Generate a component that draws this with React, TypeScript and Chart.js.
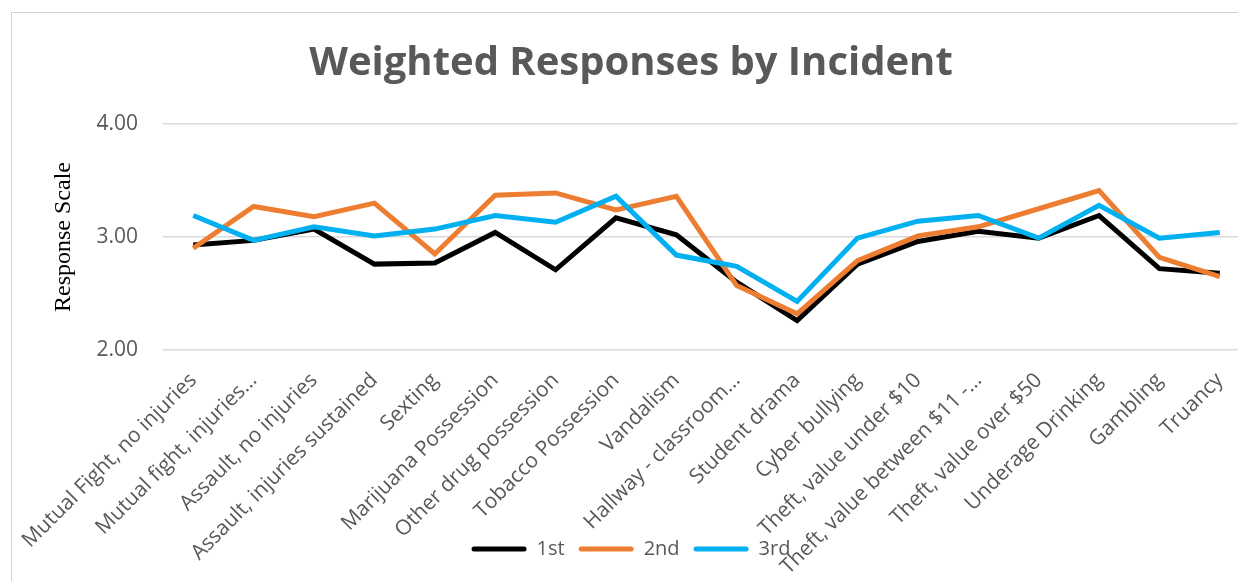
import React, { useEffect, useRef } from "react";
import { Chart, registerables } from "chart.js";

Chart.register(...registerables);

const categories = [
  "Mutual Fight, no injuries",
  "Mutual fight, injuries…",
  "Assault, no injuries",
  "Assault, injuries sustained",
  "Sexting",
  "Marijuana Possession",
  "Other drug possession",
  "Tobacco Possession",
  "Vandalism",
  "Hallway - classroom…",
  "Student drama",
  "Cyber bullying",
  "Theft, value under $10",
  "Theft, value between $11 -…",
  "Theft, value over $50",
  "Underage Drinking",
  "Gambling",
  "Truancy",
];

const first = [2.93, 2.97, 3.07, 2.76, 2.77, 3.04, 2.71, 3.17, 3.02, 2.6, 2.26, 2.76, 2.96, 3.05, 2.99, 3.19, 2.72, 2.68];
const second = [2.9, 3.27, 3.18, 3.3, 2.85, 3.37, 3.39, 3.24, 3.36, 2.57, 2.32, 2.79, 3.01, 3.09, 3.25, 3.41, 2.82, 2.65];
const third = [3.19, 2.97, 3.09, 3.01, 3.07, 3.19, 3.13, 3.36, 2.84, 2.74, 2.43, 2.99, 3.14, 3.19, 2.99, 3.28, 2.99, 3.04];

const seriesNames = ["1st", "2nd", "3rd"];
const seriesColors = ["#000000", "#ED7D31", "#00B0F0"];

const CANVAS_W = 1238;
const CANVAS_H = 568;
const TEXT = "#595959";
const SANS = "'Open Sans', sans-serif";

// let the rotated category labels run over the legend area, as in the reference
const unclipLabels = {
  id: "unclipLabels",
  afterLayout(chart: any) {
    const x = chart.scales.x;
    if (x) x.bottom = chart.height;
  },
};

export default function App() {
  const ref = useRef<HTMLCanvasElement | null>(null);

  useEffect(() => {
    if (!ref.current) return;
    const values = [first, second, third];
    const chart = new Chart(ref.current, {
      type: "line",
      data: {
        labels: categories,
        datasets: values.map((v, i) => ({
          label: seriesNames[i],
          data: v,
          borderColor: seriesColors[i],
          backgroundColor: seriesColors[i],
          borderWidth: 5,
          pointRadius: 0,
          tension: 0,
          order: 2 - i,
        })),
      },
      plugins: [unclipLabels],
      options: {
        responsive: false,
        animation: false,
        layout: { padding: { left: 0, right: 0, top: 0, bottom: 12 } },
        plugins: {
          tooltip: { enabled: false },
          title: {
            display: true,
            text: "Weighted Responses by Incident",
            color: TEXT,
            font: { family: SANS, size: 40, weight: "bold" },
            padding: { top: 27, bottom: 36 },
          },
          legend: {
            position: "bottom",
            labels: {
              color: TEXT,
              font: { family: SANS, size: 20 },
              boxWidth: 55,
              boxHeight: 5,
              padding: 14,
              sort: (a: any, b: any) => a.datasetIndex - b.datasetIndex,
              generateLabels: (c: any) => {
                const items = Chart.defaults.plugins.legend.labels.generateLabels(c);
                return items.map((it: any) => ({
                  ...it,
                  lineWidth: 0,
                  fillStyle: seriesColors[it.datasetIndex],
                  borderRadius: 2.5,
                }));
              },
            },
          },
        },
        scales: {
          x: {
            offset: true,
            grid: { display: false },
            border: { display: false },
            ticks: {
              color: TEXT,
              font: { family: SANS, size: 21 },
              minRotation: 45,
              maxRotation: 45,
              autoSkip: false,
              padding: 10,
            },
            afterFit: (s: any) => {
              s.height = 175;
            },
          },
          y: {
            min: 2,
            max: 4,
            grid: { color: "#D9D9D9", lineWidth: 1.5, drawTicks: false },
            border: { display: false },
            ticks: {
              stepSize: 1,
              color: TEXT,
              font: { family: SANS, size: 21 },
              padding: 25,
              callback: (v: any) => Number(v).toFixed(2),
            },
            title: {
              display: true,
              text: "Response Scale",
              color: "#000000",
              font: { family: "'Liberation Serif', 'Times New Roman', serif", size: 24 },
              padding: { top: 35, bottom: 0 },
            },
            afterFit: (s: any) => {
              s.width = 149;
            },
          },
        },
      },
    });
    return () => chart.destroy();
  }, []);

  return (
    <div style={{ position: "fixed", inset: 0, overflow: "hidden", background: "#fff" }}>
      <div
        style={{
          position: "absolute",
          left: 11,
          top: 12,
          borderLeft: "1px solid #d0d0d0",
          borderTop: "1px solid #d0d0d0",
          width: CANVAS_W,
          height: CANVAS_H,
        }}
      >
        <canvas
          ref={ref}
          width={CANVAS_W}
          height={CANVAS_H}
          style={{ display: "block", width: CANVAS_W, height: CANVAS_H }}
        />
      </div>
    </div>
  );
}
